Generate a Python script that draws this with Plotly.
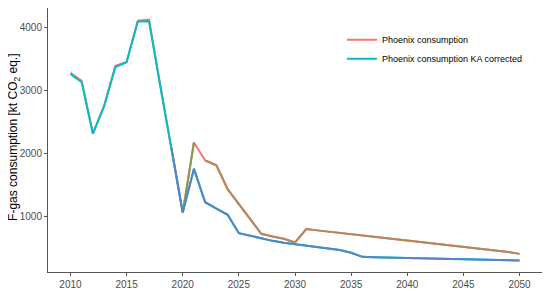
import plotly.graph_objects as go

years = list(range(2010, 2051))

phoenix = [3280, 3150, 2320, 2755, 3390, 3450, 4105, 4120, 3080, 2100,
           1066, 2175, 1890, 1815, 1437, 1200, 965, 730, 687, 650,
           592, 804, 784, 766, 745, 724, 704, 686, 664, 645,
           625, 606, 587, 566, 546, 526, 506, 486, 466, 443, 412]

phoenix_ka = [3260, 3130, 2315, 2750, 3370, 3445, 4090, 4095, 3070, 2090,
              1066, 1758, 1230, 1128, 1030, 740, 698, 655, 618, 588,
              567, 540, 520, 500, 472, 430, 365, 360, 355, 350,
              345, 340, 337, 333, 328, 323, 319, 316, 313, 310, 307]

names = ["Phoenix consumption", "Phoenix consumption KA corrected"]
colors = ["#F8766D", "#00BFC4"]
late_colors = ["#B08A5E", "#5585C5"]
y_title = "F-gas consumption [kt CO<sub>2</sub> eq.]"

fig = go.Figure()
fig.add_trace(go.Scatter(x=years, y=phoenix, mode="lines", name=names[0],
                         line=dict(color=colors[0], width=2)))
fig.add_trace(go.Scatter(x=years, y=phoenix_ka, mode="lines", name=names[1],
                         line=dict(color=colors[1], width=2)))
# muted overlay on the later part, as in the source image
fig.add_trace(go.Scatter(x=years[12:], y=phoenix[12:], mode="lines", showlegend=False,
                         line=dict(color=late_colors[0], width=2), hoverinfo="skip"))
fig.add_trace(go.Scatter(x=years[10:12], y=phoenix[10:12], mode="lines", showlegend=False,
                         line=dict(color="#8A9A55", width=2), hoverinfo="skip"))
fig.add_trace(go.Scatter(x=years[9:], y=phoenix_ka[9:], mode="lines", showlegend=False,
                         line=dict(color=late_colors[1], width=2), hoverinfo="skip"))

axis_style = dict(showgrid=False, zeroline=False, showline=True, mirror=True,
                  linecolor="#555555", linewidth=1, ticks="outside", ticklen=3,
                  tickcolor="#555555", automargin=False,
                  tickfont=dict(family="Liberation Sans, Arial", size=10, color="#4D4D4D"))

fig.update_xaxes(range=[2008, 2052], tickvals=[2010, 2015, 2020, 2025, 2030, 2035, 2040, 2045, 2050],
                 **axis_style)
fig.update_yaxes(range=[125, 4305], tickvals=[1000, 2000, 3000, 4000], **axis_style)

# y title as a rotated annotation so it can sit close to the page edge
fig.add_annotation(text=y_title, xref="paper", yref="paper", x=-0.088, y=0.51,
                   xanchor="left", yanchor="middle", textangle=-90, showarrow=False,
                   font=dict(family="Liberation Sans, Arial", size=12, color="#000000"))

# the page body adds an 8px offset, so the figure is 8px smaller on each side
fig.update_layout(
    width=542, height=283,
    margin=dict(l=40, r=8, t=0, b=19, autoexpand=False),
    plot_bgcolor="white", paper_bgcolor="white",
    showlegend=True,
    legend=dict(x=0.595, y=0.935, xanchor="left", yanchor="top",
                bgcolor="rgba(0,0,0,0)",
                font=dict(family="Liberation Sans, Arial", size=9, color="#000000"),
                tracegroupgap=0, itemwidth=30),
)

fig.write_html("out.html")
